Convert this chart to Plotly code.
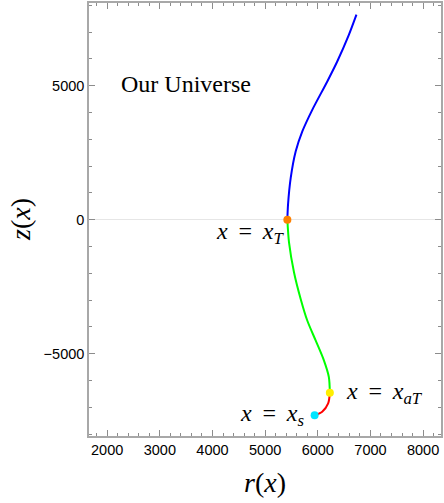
import plotly.graph_objects as go

# --- data ---
blue_r = [5422, 5435, 5486, 5581, 5706, 5895, 6178, 6367, 6588, 6734]
blue_z = [0, 572, 1560, 2550, 3294, 4099, 5150, 5893, 6884, 7649]

green_r = [5422, 5454, 5549, 5675, 5800, 5959, 6116, 6210, 6229]
green_z = [0, -854, -1968, -2956, -3762, -4504, -5247, -5867, -6461]

red_r = [6229, 6197, 6084, 5940]
red_z = [-6461, -6855, -7167, -7300]

pt_T = (5422, 0)
pt_aT = (6229, -6461)
pt_s = (5940, -7300)

x_range = [1655, 8340]
y_range = [-8070, 8085]
x_ticks = [2000, 3000, 4000, 5000, 6000, 7000, 8000]
y_ticks = [-5000, 0, 5000]
y_ticklabels = ["\u22125000", "0", "5000"]

serif = "Liberation Serif, Times New Roman, serif"
sans = "Liberation Sans, Arial, sans-serif"

fig = go.Figure()
for r, z, c in [(blue_r, blue_z, "#0000ff"), (green_r, green_z, "#00ff00"), (red_r, red_z, "#ff0000")]:
    fig.add_trace(go.Scatter(x=r, y=z, mode="lines", line=dict(color=c, width=2, shape="spline", smoothing=0.8),
                             showlegend=False, hoverinfo="skip"))

for p, c in [(pt_T, "#ff8000"), (pt_aT, "#ffee00"), (pt_s, "#00e5ff")]:
    fig.add_trace(go.Scatter(x=[p[0]], y=[p[1]], mode="markers",
                             marker=dict(color=c, size=8, line=dict(width=0)),
                             showlegend=False, hoverinfo="skip"))

sp = "\u2009"
lab_font = dict(family=serif, size=24, color="black")
fig.add_annotation(x=pt_T[0], y=pt_T[1], text=f"<i>x</i>{sp} = {sp}<i>x</i><sub><i>T</i></sub>",
                   showarrow=False, xanchor="right", yanchor="middle", xshift=-1, yshift=-13, font=lab_font)
fig.add_annotation(x=pt_aT[0], y=pt_aT[1], text=f"<i>x</i>{sp} = {sp}<i>x</i><sub><i>aT</i></sub>",
                   showarrow=False, xanchor="left", yanchor="middle", xshift=14, yshift=0, font=lab_font)
fig.add_annotation(x=pt_s[0], y=pt_s[1], text=f"<i>x</i>{sp} = {sp}<i>x</i><sub><i>s</i></sub>",
                   showarrow=False, xanchor="right", yanchor="middle", xshift=-9, yshift=0, font=lab_font)

fig.add_annotation(xref="paper", yref="paper", x=(187 - 89) / 354, y=(436 - 82) / 435,
                   text="Our Universe", showarrow=False, xanchor="center", yanchor="middle",
                   font=dict(family=serif, size=24, color="black"))

fig.add_annotation(xref="paper", yref="paper", x=0.5, y=-(483 - 436) / 435,
                   text="<i>r</i>(<i>x</i>)", showarrow=False, xanchor="center", yanchor="middle",
                   font=dict(family=serif, size=28, color="black"))
fig.add_annotation(xref="paper", yref="paper", x=-(89 - 20) / 354, y=0.5,
                   text="<i>z</i>(<i>x</i>)", showarrow=False, xanchor="center", yanchor="middle",
                   textangle=-90, font=dict(family=serif, size=28, color="black"))

axis_common = dict(showline=True, linecolor="#a8a8a8", linewidth=1.5, mirror="ticks",
                   ticks="inside", tickcolor="#8c8c8c", tickwidth=1, ticklen=6,
                   showgrid=False, tickfont=dict(family=sans, size=14.5, color="black"))

fig.update_xaxes(range=x_range, tickvals=x_ticks, ticktext=[str(v) for v in x_ticks],
                 zeroline=False,
                 minor=dict(dtick=200, ticks="inside", ticklen=3.5, tickcolor="#8c8c8c", showgrid=False),
                 **axis_common)
fig.update_yaxes(range=y_range, tickvals=y_ticks, ticktext=y_ticklabels,
                 zeroline=True, zerolinecolor="#e6e6e6", zerolinewidth=1,
                 minor=dict(dtick=1000, ticks="inside", ticklen=3.5, tickcolor="#8c8c8c", showgrid=False),
                 **axis_common)

fig.update_layout(width=444, height=503, margin=dict(l=89, r=1, t=1, b=67),
                  plot_bgcolor="white", paper_bgcolor="white")

fig.write_html("out.html", config={"displayModeBar": False},
               post_script="document.body.style.margin='0';document.body.style.overflow='hidden';")
